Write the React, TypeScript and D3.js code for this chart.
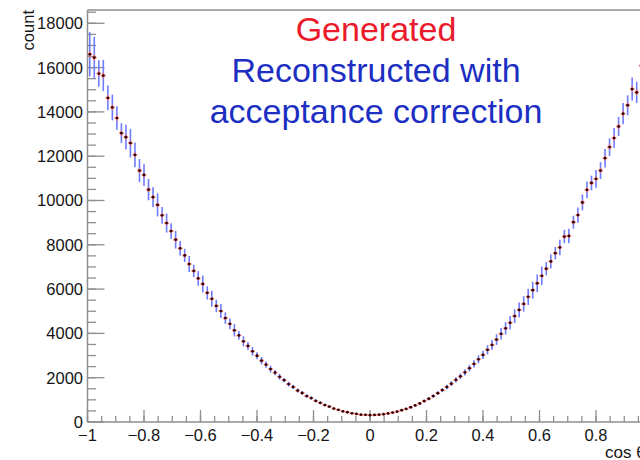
import React from 'react';
import * as d3 from 'd3';

const X_MIN = -1;
const X_MAX = 1;
const Y_MAX = 18600;

const generated = [
  16600, 16450, 15730, 15640, 14630, 14200, 13720, 13040, 12860, 12590, 12060, 11350, 11150, 10490,
  10150, 9800, 9330, 8980, 8620, 8230, 7840, 7520, 7130, 6820, 6480, 6230, 5830, 5560, 5240, 5010,
  4690, 4430, 4140, 3910, 3640, 3430, 3190, 2990, 2770, 2590, 2390, 2230, 2040, 1890, 1710, 1580,
  1420, 1310, 1170, 1080, 955, 865, 765, 695, 605, 550, 480, 440, 390, 365, 330, 322, 310,
  318, 330, 350, 385, 425, 470, 530, 590, 665, 750, 840, 945, 1050, 1170, 1300, 1440, 1580, 1730,
  1900, 2060, 2240, 2430, 2620, 2830, 3030, 3260, 3480, 3720, 3980, 4230, 4480, 4780, 5060, 5330,
  5650, 5950, 6260, 6600, 6920, 7250, 7620, 7880, 8370, 8400, 9020, 9340, 9910, 10480, 10790, 10980,
  11350, 11910, 12410, 12820, 13340, 13920, 14300, 15030, 14880, 16090, 16500, 16900,
];

const reconErr = [
  1000, 940, 600, 700, 560, 580, 530, 450, 560, 640, 560, 520, 500, 480,
  450, 520, 380, 430, 350, 400, 330, 300, 360, 280, 330, 380, 300, 360, 280, 320, 260,
  240, 280, 200, 230, 180, 200, 160, 170, 140, 150, 120, 130, 100, 110, 90, 95, 80, 80, 70, 65,
  60, 55, 50, 45, 40, 38, 35, 32, 30, 28, 28, 27,
  28, 28, 30, 32, 35, 38, 42, 46, 50, 55, 60, 66, 72, 78, 85, 92, 100, 110,
  120, 130, 140, 150, 165, 180, 190, 210, 220, 240, 260, 280, 300, 310, 330, 350, 370, 380, 400, 420,
  300, 320, 280, 350, 300, 330, 290, 340, 360, 380, 330, 400, 380, 420, 400, 450, 430, 480, 450, 520,
  480, 500, 550, 600,
];

const xMajorTicks = [-1, -0.8, -0.6, -0.4, -0.2, 0, 0.2, 0.4, 0.6, 0.8, 1];
const xTickLabels = ['\u22121', '\u22120.8', '\u22120.6', '\u22120.4', '\u22120.2', '0', '0.2', '0.4', '0.6', '0.8', '1'];
const yMajorTicks = [0, 2000, 4000, 6000, 8000, 10000, 12000, 14000, 16000, 18000];
const legendLines = [
  { text: 'Generated', color: '#ea1a2a' },
  { text: 'Reconstructed with', color: '#1c2fc2' },
  { text: 'acceptance correction', color: '#1c2fc2' },
];

const FONT = '"Liberation Sans", Arial, Helvetica, sans-serif';

export default function App() {
  const left = 87.5;
  const right = 652.5;
  const top = 10;
  const bottom = 422;
  const x = d3.scaleLinear().domain([X_MIN, X_MAX]).range([left, right]);
  const y = d3.scaleLinear().domain([0, Y_MAX]).range([bottom, top]);
  const nBins = generated.length;
  const bw = (X_MAX - X_MIN) / nBins;
  const bins = generated.map((v, i) => ({
    lo: X_MIN + i * bw,
    hi: X_MIN + (i + 1) * bw,
    c: X_MIN + (i + 0.5) * bw,
    v,
    e: Math.sqrt(v),
    be: reconErr[i] ?? 0,
  }));
  const xMinor = d3.range(X_MIN, X_MAX + 1e-9, 0.05);
  const yMinor = d3.range(0, Y_MAX, 500);
  const axisColor = '#8f8f8f';

  return (
    <svg width={640} height={460} style={{ position: 'absolute', left: 0, top: 0, background: '#fff' }}>
      {/* frame */}
      <line x1={left} x2={right} y1={top} y2={top} stroke={axisColor} strokeWidth={1.5} />
      <line x1={right} x2={right} y1={top} y2={bottom} stroke={axisColor} strokeWidth={1.5} />
      <line x1={left} x2={left} y1={top} y2={bottom} stroke={axisColor} strokeWidth={1.5} />
      <line x1={left} x2={right} y1={bottom} y2={bottom} stroke={axisColor} strokeWidth={1.5} />

      {/* y ticks */}
      {yMinor.map((t) => (
        <line key={'ym' + t} x1={left} x2={left + 8.5} y1={y(t)} y2={y(t)} stroke={axisColor} strokeWidth={1.3} />
      ))}
      {yMajorTicks.map((t) => (
        <line key={'yM' + t} x1={left} x2={left + 17} y1={y(t)} y2={y(t)} stroke={axisColor} strokeWidth={1.3} />
      ))}
      {yMajorTicks.map((t) => (
        <text key={'yl' + t} x={83} y={y(t)} dy="0.36em" textAnchor="end" fontFamily={FONT} fontSize={16.5} fill="#151515">
          {t}
        </text>
      ))}

      {/* x ticks */}
      {xMinor.map((t, i) => (
        <line key={'xm' + i} x1={x(t)} x2={x(t)} y1={bottom} y2={bottom - 6} stroke={axisColor} strokeWidth={1.3} />
      ))}
      {xMajorTicks.map((t) => (
        <line key={'xM' + t} x1={x(t)} x2={x(t)} y1={bottom} y2={bottom - 12} stroke={axisColor} strokeWidth={1.3} />
      ))}
      {xMajorTicks.map((t, i) => (
        <text key={'xl' + t} x={x(t)} y={441} textAnchor="middle" fontFamily={FONT} fontSize={16.5} fill="#151515">
          {xTickLabels[i]}
        </text>
      ))}

      {/* axis titles */}
      <text x={605} y={458} textAnchor="start" fontFamily={FONT} fontSize={17} fill="#151515">
        cos θ
      </text>
      <text transform={`translate(34,${top}) rotate(-90)`} textAnchor="end" fontFamily={FONT} fontSize={16.5} fill="#151515">
        count
      </text>

      {/* reconstructed error bars (blue) */}
      {bins.map((b, i) => (
        <line key={'b' + i} x1={x(b.c)} x2={x(b.c)} y1={y(b.v - b.be)} y2={y(b.v + b.be)} stroke="#6f7cff" strokeWidth={1.6} />
      ))}
      {/* generated error bars (red) */}
      {bins.map((b, i) => (
        <g key={'r' + i}>
          <line x1={x(b.lo)} x2={x(b.hi)} y1={y(b.v)} y2={y(b.v)} stroke="#ff6a6a" strokeWidth={1.6} />
          <line x1={x(b.c)} x2={x(b.c)} y1={y(b.v - b.e)} y2={y(b.v + b.e)} stroke="#ff6a6a" strokeWidth={1.6} />
        </g>
      ))}
      {bins.map((b, i) => (
        <circle key={'m' + i} cx={x(b.c)} cy={y(b.v)} r={1.4} fill="#2a0000" />
      ))}

      {/* legend text */}
      {legendLines.map((l, i) => (
        <text key={'lg' + i} x={376} y={41 + i * 41} textAnchor="middle" fontFamily={FONT} fontSize={34} fill={l.color}>
          {l.text}
        </text>
      ))}
    </svg>
  );
}
